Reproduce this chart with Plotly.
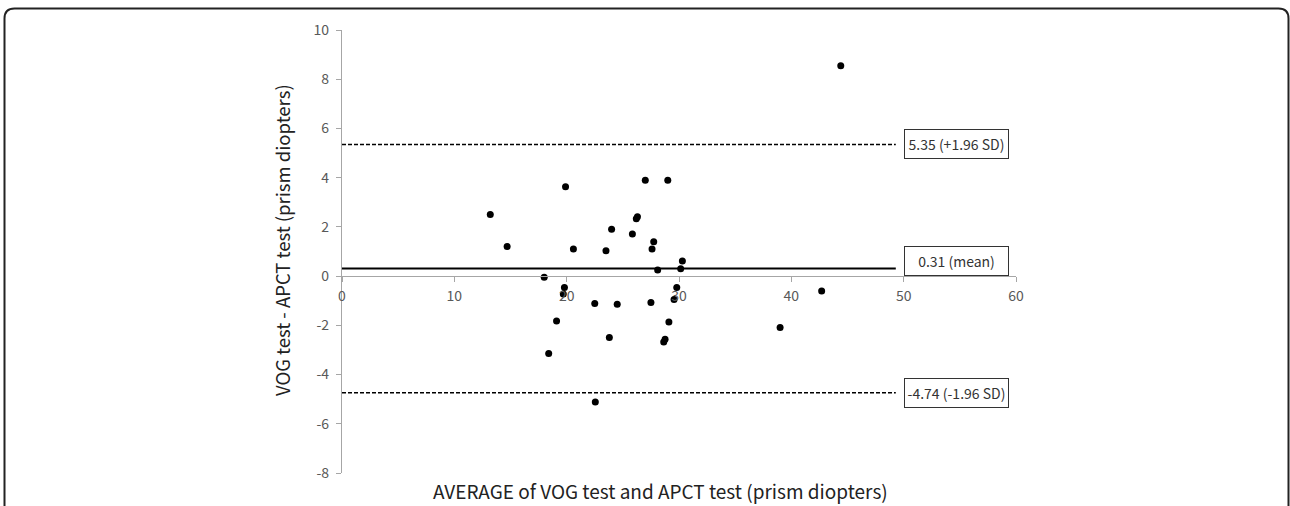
import plotly.graph_objects as go

# Data
avg = [13.2, 14.7, 18.0, 18.4, 19.1, 19.7, 19.8, 19.9, 20.6, 22.5, 22.55, 23.5,
       23.8, 24.0, 24.5, 25.85, 26.2, 26.3, 27.0, 27.5, 27.6, 27.75, 28.1, 28.64,
       28.76, 29.0, 29.1, 29.56, 29.8, 30.15, 30.3, 39.0, 42.7, 44.4]
diff = [2.5, 1.2, -0.05, -3.14, -1.82, -0.73, -0.46, 3.63, 1.10, -1.11, -5.12, 1.03,
        -2.49, 1.90, -1.14, 1.71, 2.33, 2.41, 3.89, -1.07, 1.10, 1.40, 0.25, -2.68,
        -2.57, 3.89, -1.86, -0.95, -0.46, 0.30, 0.61, -2.09, -0.61, 8.55]

mean_val = 0.31
upper_val = 5.35
lower_val = -4.74
line_x = [0, 49.3]
label_texts = ["5.35 (+1.96 SD)", "0.31 (mean)", "-4.74 (-1.96 SD)"]

x_ticks = [0, 10, 20, 30, 40, 50, 60]
y_ticks = [-8, -6, -4, -2, 0, 2, 4, 6, 8, 10]
y_tick_text = ["-8", "-6", "-4", "-2", "0", "2", "4", "6", "8", "10"]

FONT = "Noto Sans CJK KR"
fig = go.Figure()

fig.add_trace(go.Scatter(x=line_x, y=[upper_val, upper_val], mode="lines",
                         line=dict(color="black", width=1.6, dash="4px,2px"),
                         showlegend=False, hoverinfo="skip"))
fig.add_trace(go.Scatter(x=line_x, y=[lower_val, lower_val], mode="lines",
                         line=dict(color="black", width=1.6, dash="4px,2px"),
                         showlegend=False, hoverinfo="skip"))
fig.add_trace(go.Scatter(x=line_x, y=[mean_val, mean_val], mode="lines",
                         line=dict(color="black", width=2.2),
                         showlegend=False, hoverinfo="skip"))
fig.add_trace(go.Scatter(x=avg, y=diff, mode="markers",
                         marker=dict(color="black", size=7),
                         showlegend=False))

axis_col = "#a6a6a6"
tick_font = dict(family=FONT, size=14, color="#595959")

fig.update_xaxes(range=[0, 60], tickvals=x_ticks, showgrid=False, zeroline=False,
                 showline=True, linecolor=axis_col, linewidth=1.3,
                 ticks="outside", ticklen=5, tickcolor=axis_col, tickwidth=1,
                 ticklabelstandoff=2,
                 anchor="free", position=8/18, tickfont=tick_font)
fig.update_yaxes(range=[-8, 10], tickvals=y_ticks, ticktext=y_tick_text,
                 showgrid=False, zeroline=False,
                 showline=True, linecolor=axis_col, linewidth=1.3,
                 ticks="outside", ticklen=5, tickcolor=axis_col, tickwidth=1,
                 ticklabelstandoff=4, tickfont=tick_font)

ann_font = dict(family=FONT, size=14, color="#333333")
label_y = [upper_val, mean_val, lower_val]
label_shift = [0, 7, 0]
for t, yv, ys in zip(label_texts, label_y, label_shift):
    fig.add_annotation(x=54.67, y=yv, xref="x", yref="y", text=t, showarrow=False,
                       xanchor="center", yanchor="middle", yshift=ys,
                       font=ann_font, bordercolor="#333333", borderwidth=1,
                       borderpad=2, bgcolor="white", width=99, height=24)

# axis titles
fig.add_annotation(x=(660-342)/674, y=(473-490)/443, xref="paper", yref="paper",
                   text="AVERAGE of VOG test and APCT test (prism diopters)",
                   showarrow=False, xanchor="center", yanchor="middle",
                   font=dict(family=FONT, size=19, color="#222222"))
fig.add_annotation(x=(282-342)/674, y=(473-240)/443, xref="paper", yref="paper",
                   text="VOG test - APCT test (prism diopters)", textangle=-90,
                   showarrow=False, xanchor="center", yanchor="middle",
                   font=dict(family=FONT, size=18.5, color="#222222"))

# rounded outer frame
W, H = 674, 443
def px(x): return (x - 342) / W
def py(y): return (473 - y) / H
x0, x1, y0, y1, r = 4.5, 1288.5, 8.5, 540, 10
path = (f"M {px(x0)},{py(y1)} L {px(x0)},{py(y0 + r)} "
        f"Q {px(x0)},{py(y0)} {px(x0 + r)},{py(y0)} "
        f"L {px(x1 - r)},{py(y0)} Q {px(x1)},{py(y0)} {px(x1)},{py(y0 + r)} "
        f"L {px(x1)},{py(y1)}")
fig.add_shape(type="path", path=path, xref="paper", yref="paper",
              line=dict(color="#222222", width=2))

fig.update_layout(width=1290, height=506, paper_bgcolor="white", plot_bgcolor="white",
                  margin=dict(l=342, r=274, t=30, b=33), showlegend=False,
                  font=dict(family=FONT))

fig.write_html("out.html")
